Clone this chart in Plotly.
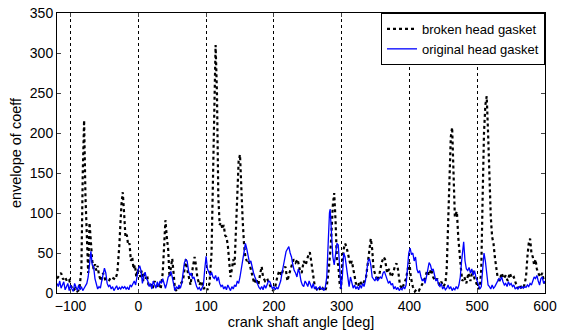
import plotly.graph_objects as go

# crank shaft angle [deg] and envelope values
broken_x = [-120, -117, -114, -111, -108, -105, -102, -99, -96, -93, -90, -87, -84, -82, -80, -78, -76, -74, -72, -70,
            -68, -66, -64, -62, -60, -58, -55, -52, -49, -46, -43, -40, -37, -34, -31, -28, -25, -23, -21, -19,
            -17, -15, -13, -11, -9, -7, -5, -3, -1, 1, 3, 5, 7, 9, 11, 13, 15, 18, 21, 24,
            27, 30, 33, 36, 38, 40, 42, 44, 46, 48, 50, 52, 54, 57, 60, 63, 66, 68, 70, 72,
            74, 77, 80, 83, 85, 87, 90, 93, 96, 99, 102, 105, 108, 111, 114, 116, 118, 120, 122, 124,
            126, 128, 130, 132, 134, 136, 138, 140, 142, 144, 146, 148, 150, 152, 154, 156, 158, 160, 162, 165,
            168, 171, 174, 177, 180, 182, 184, 187, 190, 193, 196, 199, 202, 205, 208, 211, 214, 217, 220, 223,
            226, 229, 232, 235, 238, 241, 244, 247, 250, 253, 255, 257, 260, 263, 266, 269, 272, 275, 278, 281,
            284, 287, 289, 291, 293, 295, 297, 299, 301, 303, 305, 307, 309, 311, 313, 315, 318, 321, 324, 327,
            330, 333, 336, 339, 341, 343, 345, 347, 350, 353, 356, 359, 362, 364, 367, 370, 373, 376, 379, 381,
            383, 386, 389, 392, 395, 398, 400, 402, 405, 408, 411, 414, 417, 420, 423, 426, 429, 432, 435, 438,
            441, 444, 447, 450, 453, 455, 457, 459, 461, 463, 465, 467, 469, 470, 472, 474, 476, 478, 481, 484,
            487, 490, 493, 496, 499, 502, 504, 506, 508, 510, 512, 514, 516, 518, 520, 522, 524, 526, 528, 530,
            533, 536, 539, 542, 545, 548, 551, 554, 557, 560, 563, 566, 569, 572, 574, 576, 578, 580, 582, 584,
            586, 588, 590, 593, 596, 599, 600]
broken_y = [18, 22, 25, 17, 20, 14, 16, 8, 3, 6, 2, 4, 30, 150, 216, 120, 60, 25, 88, 55,
            40, 30, 36, 28, 34, 22, 15, 25, 17, 18, 16, 20, 18, 17, 25, 60, 110, 126, 100, 70,
            73, 60, 62, 40, 45, 30, 35, 20, 30, 25, 20, 28, 15, 24, 18, 22, 10, 12, 5, 15,
            8, 12, 5, 25, 70, 91, 70, 55, 20, 30, 43, 25, 5, 2, 8, 12, 16, 30, 42, 30,
            20, 10, 30, 45, 35, 20, 10, 15, 5, 8, 4, 12, 50, 200, 310, 250, 120, 85, 88, 80,
            85, 72, 70, 60, 40, 20, 30, 42, 35, 80, 140, 165, 173, 120, 90, 60, 45, 40, 42, 33,
            22, 12, 18, 10, 25, 33, 20, 15, 18, 12, 6, 3, 8, 20, 28, 22, 30, 33, 15, 25,
            35, 42, 38, 42, 30, 25, 40, 35, 45, 51, 40, 25, 10, 5, 8, 3, 6, 2, 8, 30,
            60, 110, 125, 90, 40, 35, 12, 5, 40, 55, 62, 58, 50, 40, 35, 40, 25, 12, 8, 15,
            10, 14, 20, 40, 60, 68, 55, 30, 22, 15, 25, 38, 45, 42, 25, 30, 20, 25, 35, 37,
            30, 10, 5, 12, 18, 32, 38, 20, 8, 2, 5, 3, 8, 12, 18, 28, 22, 30, 20, 15,
            18, 10, 14, 8, 12, 30, 80, 150, 195, 207, 150, 95, 100, 102, 70, 45, 30, 15, 20, 12,
            25, 15, 28, 18, 10, 5, 8, 30, 120, 200, 235, 246, 200, 130, 95, 70, 62, 45, 30, 20,
            15, 25, 18, 22, 15, 25, 18, 20, 12, 6, 10, 5, 8, 20, 45, 62, 68, 50, 45, 35,
            42, 30, 25, 20, 25, 12, 15]

orig_x = list(range(-120, 282, 2)) + [282, 283, 285, 287, 289, 291, 293, 295, 297, 299] + \
    list(range(301, 479, 2)) + [479, 480] + list(range(482, 510, 2)) + list(range(510, 601, 2))
orig_y = [12, 8, 15, 6, 10, 14, 4, 8, 12, 3, 10, 5, 2, 12, 6, 3, 10, 4, 8, 3,
          6, 10, 12, 20, 42, 52, 35, 33, 18, 12, 5, 8, 6, 15, 25, 31, 25, 12, 8, 10,
          5, 8, 3, 6, 9, 4, 7, 5, 8, 6, 8, 5, 7, 4, 10, 8, 12, 15, 10, 20,
          30, 34, 28, 12, 22, 26, 18, 15, 8, 12, 5, 15, 10, 6, 14, 8, 15, 12, 18, 10,
          6, 12, 20, 22, 27, 20, 12, 3, 8, 5, 10, 6, 12, 25, 38, 42, 40, 28, 22, 25,
          18, 20, 12, 8, 5, 7, 3, 6, 10, 30, 46, 30, 25, 22, 26, 20, 18, 22, 15, 20,
          12, 8, 10, 5, 8, 4, 10, 6, 3, 8, 5, 10, 8, 15, 12, 20, 30, 45, 55, 62,
          55, 45, 38, 40, 30, 25, 20, 15, 10, 7, 5, 8, 4, 10, 6, 12, 15, 14, 8, 5,
          8, 4, 7, 5, 10, 15, 25, 35, 45, 52, 55, 58, 50, 45, 35, 28, 25, 20, 30, 25,
          15, 10, 8, 15, 12, 8, 15, 10, 6, 12, 5, 8, 4, 6, 8, 5, 6, 3, 8, 20,
          70,
          100, 105, 80, 45, 35, 50, 62, 60, 30, 5,
          20, 50, 45, 30, 15, 8, 20, 12, 6, 10, 5, 8, 4, 10, 6, 12, 8, 15, 25, 40,
          43, 35, 20, 18, 15, 20, 15, 18, 20, 18, 25, 27, 22, 15, 12, 15, 10, 12, 5, 8,
          4, 7, 3, 6, 4, 8, 5, 10, 30, 50, 56, 48, 50, 40, 45, 30, 25, 28, 20, 15,
          18, 12, 20, 30, 38, 35, 28, 30, 22, 15, 18, 10, 8, 12, 5, 8, 4, 6, 10, 5,
          8, 3, 6, 4, 8, 5, 10, 20, 40,
          60, 64,
          40, 30, 28, 32, 25, 30, 22, 28, 20, 15, 10, 5, 8, 30,
          50, 40, 20, 10, 8, 5, 10, 6, 8, 12, 15, 18, 16, 20, 14, 10, 12, 8, 14, 10,
          12, 8, 10, 5, 7, 5, 8, 6, 8, 6, 8, 7, 10, 8, 12, 10, 15, 20, 18, 22,
          15, 10, 18, 20, 12, 15]
n = min(len(orig_x), len(orig_y))
orig_x, orig_y = orig_x[:n], orig_y[:n]

x_ticks = [-100, 0, 100, 200, 300, 400, 500, 600]
y_ticks = [0, 50, 100, 150, 200, 250, 300, 350]

fig = go.Figure()
fig.add_trace(go.Scatter(x=broken_x, y=broken_y, mode="lines", name="broken head gasket",
                         line=dict(color="black", width=2.2, dash="dot")))
fig.add_trace(go.Scatter(x=orig_x, y=orig_y, mode="lines", name="original head gasket",
                         line=dict(color="#0000ff", width=1.3)))

font = "Liberation Sans, Arial, sans-serif"
fig.update_layout(
    width=563, height=331,
    margin=dict(l=57, r=18, t=13, b=38, autoexpand=False),
    paper_bgcolor="white", plot_bgcolor="white",
    font=dict(family=font, size=14, color="black"),
    showlegend=True,
    legend=dict(x=1, y=1, xanchor="right", yanchor="top", bgcolor="white",
                bordercolor="black", borderwidth=1, font=dict(size=13),
                tracegroupgap=0, itemwidth=30),
    xaxis=dict(range=[-120, 600], tickvals=x_ticks, ticks="inside", ticklen=4,
               showline=True, linecolor="black", linewidth=1, mirror="ticks",
               showgrid=True, gridcolor="black", griddash="dot", gridwidth=0.6,
               zeroline=False, automargin=False,
               title=dict(text="crank shaft angle [deg]", font=dict(size=14.5), standoff=0)),
    yaxis=dict(range=[0, 350], tickvals=y_ticks, ticks="inside", ticklen=4,
               showline=True, linecolor="black", linewidth=1, mirror="ticks",
               showgrid=False, zeroline=False, automargin=False,
               title=dict(text="envelope of coeff", font=dict(size=14.5), standoff=4)),
)

fig.write_html("out.html")
